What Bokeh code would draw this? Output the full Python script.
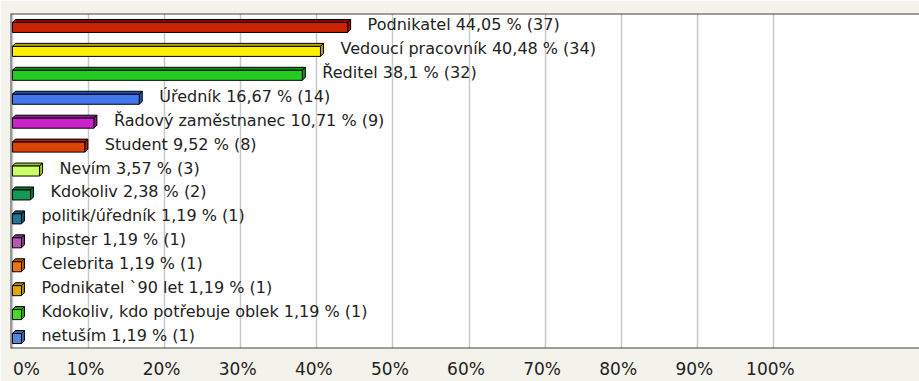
import numpy as np
from bokeh.plotting import figure
from bokeh.models import (Range1d, FixedTicker, Span, ColumnDataSource,
                          CustomJSTickFormatter)
from bokeh.embed import file_html
from bokeh.resources import INLINE
from bokeh.core.properties import value

# Survey answers, share of respondents (%) and number of respondents
categories = [
    "Podnikatel", "Vedoucí pracovník", "Ředitel", "Úředník",
    "Řadový zaměstnanec", "Student", "Nevím", "Kdokoliv",
    "politik/úředník", "hipster", "Celebrita", "Podnikatel `90 let ",
    "Kdokoliv, kdo potřebuje oblek", "netuším",
]
percents = [44.05, 40.48, 38.1, 16.67, 10.71, 9.52, 3.57, 2.38,
            1.19, 1.19, 1.19, 1.19, 1.19, 1.19]
counts = [37, 34, 32, 14, 9, 8, 3, 2, 1, 1, 1, 1, 1, 1]

front_colors = ["#cc2200", "#ffee00", "#22cc22", "#4477ee", "#cc22cc",
                "#dd4400", "#ccff66", "#119955", "#227799", "#bb55bb",
                "#ee7700", "#ddaa00", "#44dd22", "#5588dd"]
back_colors = ["#990000", "#bbaa00", "#119911", "#2255bb", "#991199",
               "#aa2200", "#99cc33", "#007733", "#115566", "#883388",
               "#bb5500", "#aa8800", "#22aa11", "#3366aa"]

tick_values = [0, 10, 20, 30, 40, 50, 60, 70, 80, 90, 100]
tick_labels = [f"{t}%" for t in tick_values]

# Page / frame geometry (pixels)
W, H = 919, 381
BORDER_L, BORDER_T, BORDER_B = 10, 13, 33
frame_w = W - BORDER_L
frame_h = H - BORDER_T - BORDER_B
px_per_pct = 7.61
x_start = -1.9 / px_per_pct
x_end = x_start + frame_w / px_per_pct

n = len(categories)
row_px = frame_h / n
rows = np.arange(n)
vals = np.array(percents)

p = figure(width=W, height=H, output_backend="svg", toolbar_location=None,
           x_range=Range1d(x_start, x_end), y_range=Range1d(n - 0.5, -0.5),
           min_border_left=BORDER_L, min_border_right=0,
           min_border_top=BORDER_T, min_border_bottom=BORDER_B)
p.yaxis.visible = False
p.ygrid.visible = False
p.xgrid.ticker = FixedTicker(ticks=tick_values)
p.xgrid.grid_line_color = "#c8c8c8"
p.xgrid.grid_line_width = 1.5
p.outline_line_color = None
p.background_fill_color = "white"
p.border_fill_color = "#f3f2eb"

# Percent labels under the frame: slightly left of each grid line,
# the first one kept inside the page
label_pos = [t - 3 / px_per_pct for t in tick_values]
label_pos[0] = tick_values[0] + 14 / px_per_pct
xa = p.xaxis[0]
xa.ticker = FixedTicker(ticks=label_pos, minor_ticks=[])
xa.formatter = CustomJSTickFormatter(args=dict(labels=tick_labels),
                                     code="return labels[index];")
xa.axis_line_color = None
xa.major_tick_line_color = None
xa.minor_tick_line_color = None
xa.major_tick_out = 0
xa.major_tick_in = 0
xa.minor_tick_out = 0
xa.major_label_standoff = 10
xa.major_label_text_font = "DejaVu Sans"
xa.major_label_text_font_size = "17px"
xa.major_label_text_color = "#222222"

# 3D-style bars: darker top and side faces, then the front face
bar_h = 10 / row_px
dx = 3 / px_per_pct
dy = 3 / row_px
centers = rows + 2 / row_px
tops = centers - bar_h / 2
bottoms = centers + bar_h / 2

top_xs, top_ys, side_xs, side_ys = [], [], [], []
for v, t, b in zip(vals, tops, bottoms):
    top_xs.append([0, dx, v + dx, v])
    top_ys.append([t, t - dy, t - dy, t])
    side_xs.append([v, v + dx, v + dx, v])
    side_ys.append([t, t - dy, b - dy, b])

p.patches(top_xs, top_ys, fill_color=back_colors, line_color="black", line_width=1)
p.patches(side_xs, side_ys, fill_color=back_colors, line_color="black", line_width=1)

src = ColumnDataSource(dict(
    y=centers, right=vals, color=front_colors,
    ly=rows,
    label=[f"{c} {str(v).replace('.', ',')} % ({k})"
           for c, v, k in zip(categories, percents, counts)],
))
p.hbar(y="y", left=0, right="right", height=bar_h, source=src,
       fill_color="color", line_color="black", line_width=1)

p.text(x="right", y="ly", text="label", source=src, x_offset=20, y_offset=-1,
       text_font=value("DejaVu Sans"), text_font_size="16px",
       text_color="#222222", text_baseline="middle", text_align="left")

# Frame borders on top, left and bottom
for loc in (-0.5, n - 0.5):
    p.add_layout(Span(location=loc, dimension="width",
                      line_color="#3a3a3a", line_width=2))
p.add_layout(Span(location=x_start, dimension="height",
                  line_color="#3a3a3a", line_width=2))

open("out.html", "w").write(file_html(p, INLINE))
